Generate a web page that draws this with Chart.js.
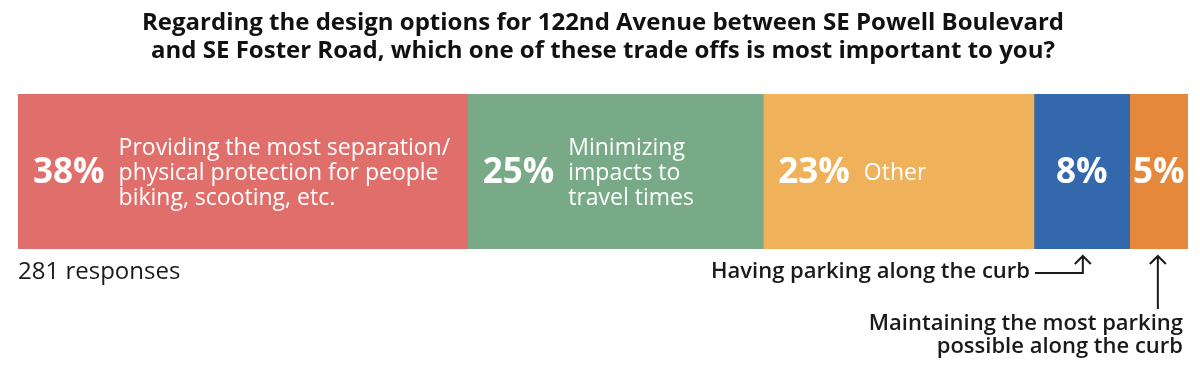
<!DOCTYPE html>
<html>
<head>
<meta charset="utf-8">
<script src="https://cdn.jsdelivr.net/npm/chart.js@4.4.1/dist/chart.umd.min.js"></script>
<style>
  html, body { margin: 0; padding: 0; background: #ffffff; }
  #wrap { width: 1200px; height: 378px; position: relative; }
</style>
</head>
<body>
<div id="wrap"><canvas id="c" width="1200" height="378"></canvas></div>
<script>
// ---- data ----
const categories = [
  "Providing the most separation/ physical protection for people biking, scooting, etc.",
  "Minimizing impacts to travel times",
  "Other",
  "Having parking along the curb",
  "Maintaining the most parking possible along the curb"
];
const responseCounts = [108, 71, 65, 23, 14];
const percentLabels = ["38%", "25%", "23%", "8%", "5%"];
const insideLabelLines = [
  ["Providing the most separation/", "physical protection for people", "biking, scooting, etc."],
  ["Minimizing", "impacts to", "travel times"],
  ["Other"],
  [],
  []
];
const totalResponses = 281;
const titleLines = [
  "Regarding the design options for 122nd Avenue between SE Powell Boulevard",
  "and SE Foster Road, which one of these trade offs is most important to you?"
];
const colors = ["#E06F6B", "#78AA87", "#F0B15B", "#3468AC", "#E6883C"];

const FONT = "'Open Sans', 'Noto Sans', sans-serif";

const labelPlugin = {
  id: 'labels',
  afterDatasetsDraw(chart) {
    const ctx = chart.ctx;
    ctx.save();
    chart.data.datasets.forEach((ds, i) => {
      const bar = chart.getDatasetMeta(i).data[0];
      const left = bar.base < bar.x ? bar.base : bar.x;
      const right = bar.base < bar.x ? bar.x : bar.base;
      const cy = bar.y;
      const lines = insideLabelLines[i];
      ctx.fillStyle = '#ffffff';
      ctx.textBaseline = 'middle';
      ctx.font = "bold 35px " + FONT;
      if (lines.length) {
        ctx.textAlign = 'left';
        const px = left + 15;
        ctx.fillText(percentLabels[i], px, cy + 2);
        const w = ctx.measureText(percentLabels[i]).width;
        ctx.font = "23px " + FONT;
        const lh = 25;
        const start = cy + 1.5 - (lines.length - 1) * lh / 2;
        lines.forEach((t, k) => ctx.fillText(t, px + w + 14, start + k * lh));
      } else {
        ctx.textAlign = 'center';
        ctx.fillText(percentLabels[i], (left + right) / 2, cy + 2);
      }
    });

    const area = chart.chartArea;
    // responses count
    ctx.fillStyle = '#1a1a1a';
    ctx.textAlign = 'left';
    ctx.font = "24px " + FONT;
    ctx.fillText(totalResponses + " responses", area.left, 272);

    // annotations
    const b3 = chart.getDatasetMeta(3).data[0];
    const b4 = chart.getDatasetMeta(4).data[0];
    const x3 = (b3.base + b3.x) / 2 + 1;
    const x4 = (b4.base + b4.x) / 2 - 1;
    ctx.font = "600 22px " + FONT;
    ctx.textAlign = 'right';
    ctx.fillText(categories[3], 1030, 272);
    ctx.fillText("Maintaining the most parking", 1183, 324);
    ctx.fillText("possible along the curb", 1183, 347);

    ctx.strokeStyle = '#1a1a1a';
    ctx.lineWidth = 2;
    const top = area.bottom + 7;
    ctx.beginPath();
    ctx.moveTo(1035, 273);
    ctx.lineTo(x3, 273);
    ctx.lineTo(x3, top);
    ctx.moveTo(x3 - 8, top + 8);
    ctx.lineTo(x3, top);
    ctx.lineTo(x3 + 8, top + 8);
    ctx.moveTo(x4, 309);
    ctx.lineTo(x4, top);
    ctx.moveTo(x4 - 8, top + 8);
    ctx.lineTo(x4, top);
    ctx.lineTo(x4 + 8, top + 8);
    ctx.stroke();
    ctx.restore();
  }
};

new Chart(document.getElementById('c'), {
  type: 'bar',
  data: {
    labels: ["Responses"],
    datasets: categories.map((c, i) => ({
      label: c,
      data: [responseCounts[i]],
      backgroundColor: colors[i],
      borderWidth: 0,
      categoryPercentage: 1,
      barPercentage: 1
    }))
  },
  options: {
    indexAxis: 'y',
    responsive: false,
    animation: false,
    layout: { padding: { left: 18, right: 12, top: 0, bottom: 129 } },
    scales: {
      x: { stacked: true, display: false, min: 0, max: totalResponses },
      y: { stacked: true, display: false }
    },
    plugins: {
      legend: { display: false },
      tooltip: { enabled: false },
      title: {
        display: true,
        text: titleLines,
        color: '#111111',
        font: { family: FONT, size: 24, weight: 'bold', lineHeight: 28 / 24 },
        padding: { top: 9, bottom: 29 }
      }
    }
  },
  plugins: [labelPlugin]
});
</script>
</body>
</html>
